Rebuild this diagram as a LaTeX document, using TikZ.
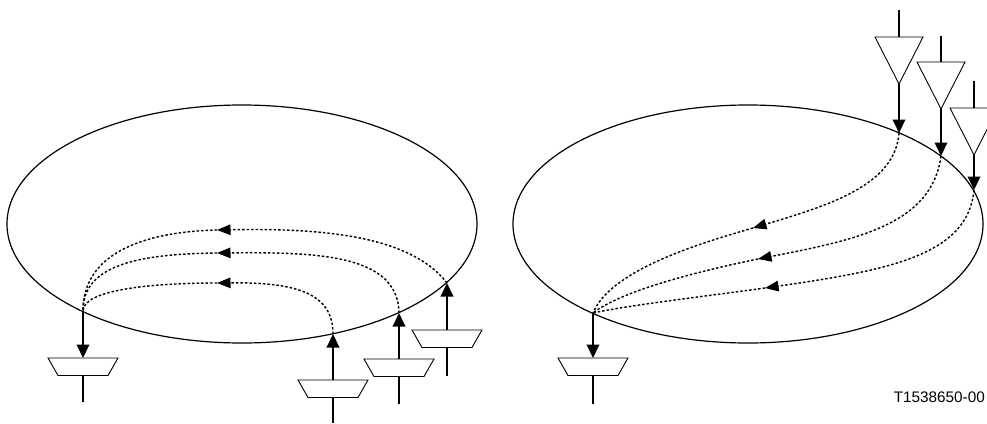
\documentclass[tikz,border=0pt]{standalone}
\usepackage{fontspec}
\setmainfont{Liberation Sans}
\usetikzlibrary{arrows.meta,shapes.geometric}
\begin{document}
\begin{tikzpicture}[x={(1pt,0)},y={(0,-1pt)},
  ring/.style={draw, ellipse, line width=1.2pt, minimum width=470pt, minimum height=238pt, inner sep=0pt},
  flow/.style={line width=2pt, -{Triangle[length=13.5pt,width=12.5pt]}},
  wire/.style={line width=2pt},
  pathdot/.style={line width=1.4pt, dash pattern=on 2.5pt off 2pt},
  pathdotarrow/.style={pathdot, -{Triangle[length=13.5pt,width=10.5pt]}},
  amp/.style={line width=0.9pt},
  muxpic/.pic={\draw[amp] (-35,0) -- (35,0) -- (25,17.5) -- (-25,17.5) -- cycle;},
  amppic/.pic={\draw[amp] (-24,0) -- (24,0) -- (0,47) -- cycle;}]
\useasboundingbox (0,0) rectangle (987,423);

% ---------- left picture ----------
\node[ring] (E1) at (242,224) {};
\coordinate (o1) at (83,311);
\coordinate (t1) at (83,358);
\coordinate (b1) at (83,375.5);
\coordinate (s1) at (83,402);
\coordinate (inA) at (333,334);
\coordinate (tA) at (333,380);
\coordinate (bA) at (333,397.5);
\coordinate (sA) at (333,423);
\coordinate (inB) at (399,313);
\coordinate (tB) at (399,359);
\coordinate (bB) at (399,376.5);
\coordinate (sB) at (399,404);
\coordinate (inC) at (447,283);
\coordinate (tC) at (447,330);
\coordinate (bC) at (447,347.5);
\coordinate (sC) at (447,376);
\coordinate (mA) at (217,283);
\coordinate (mB) at (217,253);
\coordinate (mC) at (217,230);

\pic at (t1) {muxpic};
\pic at (tA) {muxpic};
\pic at (tB) {muxpic};
\pic at (tC) {muxpic};

\draw[flow] (o1) -- (t1);
\draw[wire] (b1) -- (s1);
\draw[flow] (tA) -- (inA);
\draw[wire] (bA) -- (sA);
\draw[flow] (tB) -- (inB);
\draw[wire] (bB) -- (sB);
\draw[flow] (tC) -- (inC);
\draw[wire] (bC) -- (sC);

\draw[pathdotarrow] (inC) .. controls (410,235) and (320,228) .. (mC);
\draw[pathdot] (mC) .. controls (140,232) and (83,255) .. (o1);
\draw[pathdotarrow] (inB) .. controls (398,255) and (320,252) .. (mB);
\draw[pathdot] (mB) .. controls (135,254) and (83,266) .. (o1);
\draw[pathdotarrow] (inA) .. controls (333,295) and (300,282) .. (mA);
\draw[pathdot] (mA) .. controls (150,283) and (83,290) .. (o1);

% ---------- right picture ----------
\node[ring] (E2) at (748,224) {};
\coordinate (o2) at (593,313);
\coordinate (t2) at (593,358);
\coordinate (b2) at (593,375.5);
\coordinate (s2) at (593,404);
\coordinate (k1) at (899,10);
\coordinate (g1) at (899,37);
\coordinate (p1) at (899,84);
\coordinate (r1) at (899,133);
\coordinate (k2) at (941,36);
\coordinate (g2) at (941,62);
\coordinate (p2) at (941,109);
\coordinate (r2) at (941,156);
\coordinate (k3) at (974,81);
\coordinate (g3) at (974,108);
\coordinate (p3) at (974,155);
\coordinate (r3) at (974,190);
\coordinate (n1) at (753,228);
\coordinate (n2) at (758,259);
\coordinate (n3) at (765,288);

\pic at (t2) {muxpic};
\draw[flow] (o2) -- (t2);
\draw[wire] (b2) -- (s2);

\pic at (g1) {amppic};
\pic at (g2) {amppic};
\pic at (g3) {amppic};
\draw[wire] (k1) -- (g1);
\draw[wire] (k2) -- (g2);
\draw[wire] (k3) -- (g3);
\draw[flow] (p1) -- (r1);
\draw[flow] (p2) -- (r2);
\draw[flow] (p3) -- (r3);

\draw[pathdotarrow] (r1) .. controls (895,185) and (830,205) .. (n1);
\draw[pathdot] (n1) .. controls (690,246) and (610,272) .. (o2);
\draw[pathdotarrow] (r2) .. controls (932,225) and (855,240) .. (n2);
\draw[pathdot] (n2) .. controls (690,273) and (620,292) .. (o2);
\draw[pathdotarrow] (r3) .. controls (968,255) and (890,270) .. (n3);
\draw[pathdot] (n3) .. controls (700,297) and (630,305) .. (o2);

\node[font=\fontsize{15.3}{18}\selectfont, anchor=base east, inner sep=0pt] (lbl) at (985,402) {T1538650-00};
\end{tikzpicture}
\end{document}
